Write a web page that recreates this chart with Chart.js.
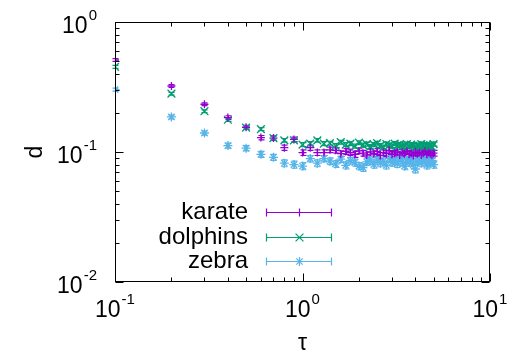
<!doctype html>
<html>

<head>
	<title>d vs tau</title>
	<script src="https://cdn.jsdelivr.net/npm/chart.js@4.4.0/dist/chart.umd.min.js"></script>
	<style>
		body {
			margin: 0;
			background: #fff;
		}
	</style>
</head>

<body>
	<div style="width:521px;height:358px">
		<canvas id="canvas" width="521" height="358"></canvas>
	</div>
	<script>
		var tau = [0.1, 0.2, 0.3, 0.4, 0.5, 0.6, 0.7, 0.8, 0.9, 1.0,
			1.1, 1.2, 1.3, 1.4, 1.5, 1.6, 1.7, 1.8, 1.9, 2.0,
			2.1, 2.2, 2.3, 2.4, 2.5, 2.6, 2.7, 2.8, 2.9, 3.0,
			3.1, 3.2, 3.3, 3.4, 3.5, 3.6, 3.7, 3.8, 3.9, 4.0,
			4.1, 4.2, 4.3, 4.4, 4.5, 4.6, 4.7, 4.8, 4.9, 5.0];

		var karate = [0.510, 0.322, 0.233, 0.184, 0.155, 0.129, 0.128, 0.108, 0.125, 0.099,
			0.108, 0.099, 0.099, 0.104, 0.103, 0.097, 0.101, 0.099, 0.096, 0.102,
			0.098, 0.095, 0.100, 0.097, 0.101, 0.094, 0.099, 0.097, 0.103, 0.096,
			0.098, 0.100, 0.095, 0.099, 0.097, 0.101, 0.096, 0.098, 0.094, 0.100,
			0.097, 0.099, 0.095, 0.098, 0.101, 0.096, 0.099, 0.097, 0.095, 0.098];
		var karateErr = [0.012, 0.008, 0.006, 0.006, 0.005, 0.005, 0.005, 0.005, 0.005, 0.005,
			0.005, 0.005, 0.005, 0.005, 0.005, 0.005, 0.005, 0.005, 0.005, 0.005,
			0.005, 0.005, 0.005, 0.005, 0.005, 0.005, 0.005, 0.005, 0.005, 0.005,
			0.005, 0.005, 0.005, 0.005, 0.005, 0.005, 0.005, 0.005, 0.005, 0.005,
			0.005, 0.005, 0.005, 0.005, 0.005, 0.005, 0.005, 0.005, 0.005, 0.005];

		var dolphins = [0.452, 0.281, 0.206, 0.177, 0.154, 0.150, 0.128, 0.123, 0.123, 0.114,
			0.116, 0.123, 0.116, 0.117, 0.112, 0.119, 0.114, 0.116, 0.111, 0.118,
			0.113, 0.115, 0.110, 0.114, 0.117, 0.112, 0.109, 0.115, 0.113, 0.111,
			0.116, 0.112, 0.114, 0.110, 0.113, 0.115, 0.111, 0.114, 0.112, 0.109,
			0.113, 0.111, 0.115, 0.112, 0.110, 0.114, 0.111, 0.113, 0.109, 0.115];
		var dolphinsErr = [0.012, 0.007, 0.005, 0.005, 0.004, 0.004, 0.004, 0.004, 0.004, 0.004,
			0.004, 0.004, 0.004, 0.004, 0.004, 0.004, 0.004, 0.004, 0.004, 0.004,
			0.004, 0.004, 0.004, 0.004, 0.004, 0.004, 0.004, 0.004, 0.004, 0.004,
			0.004, 0.004, 0.004, 0.004, 0.004, 0.004, 0.004, 0.004, 0.004, 0.004,
			0.004, 0.004, 0.004, 0.004, 0.004, 0.004, 0.004, 0.004, 0.004, 0.004];

		var zebra = [0.302, 0.186, 0.140, 0.112, 0.107, 0.096, 0.091, 0.082, 0.080, 0.078,
			0.089, 0.082, 0.089, 0.085, 0.081, 0.088, 0.079, 0.086, 0.083, 0.078,
			0.076, 0.084, 0.087, 0.080, 0.088, 0.082, 0.085, 0.079, 0.089, 0.083,
			0.086, 0.081, 0.090, 0.084, 0.078, 0.087, 0.083, 0.088, 0.080, 0.074,
			0.085, 0.086, 0.082, 0.089, 0.084, 0.079, 0.087, 0.083, 0.086, 0.080];
		var zebraErr = [0.008, 0.006, 0.005, 0.005, 0.005, 0.005, 0.005, 0.005, 0.005, 0.005,
			0.005, 0.005, 0.005, 0.005, 0.005, 0.005, 0.005, 0.005, 0.005, 0.005,
			0.005, 0.005, 0.005, 0.005, 0.005, 0.005, 0.005, 0.005, 0.005, 0.005,
			0.005, 0.005, 0.005, 0.005, 0.005, 0.005, 0.005, 0.005, 0.005, 0.005,
			0.005, 0.005, 0.005, 0.005, 0.005, 0.005, 0.005, 0.005, 0.005, 0.005];

		var xTicks = [0.1, 1, 10];
		var xTickExp = ['-1', '0', '1'];
		var yTicks = [0.01, 0.1, 1];
		var yTickExp = ['-2', '-1', '0'];

		var names = ['karate', 'dolphins', 'zebra'];
		var colors = ['#9400d3', '#009e73', '#56b4e9'];
		var markers = ['cross', 'crossRot', 'star'];
		var markerSize = [4, 5.5, 4.5];
		var series = [karate, dolphins, zebra];
		var errors = [karateErr, dolphinsErr, zebraErr];

		var FONT = '"Liberation Sans", Arial, sans-serif';

		function toPoints(values) {
			return values.map(function(v, i) {
				return { x: tau[i], y: v };
			});
		}

		function drawMarker(ctx, style, x, y, r) {
			var d = r * Math.SQRT1_2;
			ctx.beginPath();
			if (style === 'cross' || style === 'star') {
				ctx.moveTo(x - r, y); ctx.lineTo(x + r, y);
				ctx.moveTo(x, y - r); ctx.lineTo(x, y + r);
			}
			if (style === 'crossRot' || style === 'star') {
				ctx.moveTo(x - d, y - d); ctx.lineTo(x + d, y + d);
				ctx.moveTo(x - d, y + d); ctx.lineTo(x + d, y - d);
			}
			ctx.stroke();
		}

		// draws "10" with a raised exponent; y is the baseline of "10"
		function powerLabel(ctx, exp, x, y, align) {
			ctx.font = '23px ' + FONT;
			var wBase = ctx.measureText('10').width;
			ctx.font = '15px ' + FONT;
			var wExp = ctx.measureText(exp).width;
			var total = wBase + 1 + wExp;
			var left = align === 'right' ? x - total : x - total / 2;
			ctx.textAlign = 'left';
			ctx.textBaseline = 'alphabetic';
			ctx.font = '23px ' + FONT;
			ctx.fillText('10', left, y);
			ctx.font = '15px ' + FONT;
			ctx.fillText(exp, left + wBase + 1, y - 13);
		}

		function logMinors(min, max) {
			var out = [];
			for (var d = Math.round(Math.log10(min)); d < Math.round(Math.log10(max)); d++) {
				for (var k = 2; k <= 9; k++) out.push(k * Math.pow(10, d));
			}
			return out;
		}

		var errorBars = {
			id: 'errorBars',
			beforeDatasetsDraw: function(chart) {
				var ctx = chart.ctx, xs = chart.scales.x, ys = chart.scales.y;
				ctx.save();
				ctx.lineWidth = 1.2;
				series.forEach(function(vals, i) {
					ctx.strokeStyle = colors[i];
					vals.forEach(function(v, j) {
						var e = errors[i][j];
						var x = Math.round(xs.getPixelForValue(tau[j])) + 0.5;
						var y0 = ys.getPixelForValue(v - e);
						var y1 = ys.getPixelForValue(v + e);
						ctx.beginPath();
						ctx.moveTo(x, y0); ctx.lineTo(x, y1);
						ctx.moveTo(x - 3, y0); ctx.lineTo(x + 3, y0);
						ctx.moveTo(x - 3, y1); ctx.lineTo(x + 3, y1);
						ctx.stroke();
					});
				});
				ctx.restore();
			}
		};

		var frame = {
			id: 'frame',
			afterDraw: function(chart) {
				var ctx = chart.ctx, a = chart.chartArea;
				var xs = chart.scales.x, ys = chart.scales.y;
				var L = Math.round(a.left) + 0.5, R = Math.round(a.right) - 0.5;
				var T = Math.round(a.top) + 0.5, B = Math.round(a.bottom) - 0.5;
				ctx.save();
				ctx.strokeStyle = '#000';
				ctx.fillStyle = '#000';
				ctx.lineWidth = 1;
				ctx.strokeRect(L, T, R - L, B - T);

				// inward ticks on all four sides
				ctx.beginPath();
				function xTick(v, len) {
					var x = Math.round(xs.getPixelForValue(v)) + 0.5;
					ctx.moveTo(x, B); ctx.lineTo(x, B - len);
					ctx.moveTo(x, T); ctx.lineTo(x, T + len);
				}
				function yTick(v, len) {
					var y = Math.round(ys.getPixelForValue(v)) + 0.5;
					ctx.moveTo(L, y); ctx.lineTo(L + len, y);
					ctx.moveTo(R, y); ctx.lineTo(R - len, y);
				}
				xTicks.forEach(function(v) { xTick(v, 8); });
				logMinors(0.1, 10).forEach(function(v) { xTick(v, 4); });
				yTicks.forEach(function(v) { yTick(v, 8); });
				logMinors(0.01, 1).forEach(function(v) { yTick(v, 4); });
				ctx.stroke();

				// tick labels
				xTicks.forEach(function(v, i) {
					powerLabel(ctx, xTickExp[i], xs.getPixelForValue(v), 317, 'center');
				});
				yTicks.forEach(function(v, i) {
					powerLabel(ctx, yTickExp[i], 97, ys.getPixelForValue(v) + 11, 'right');
				});

				// axis titles
				ctx.font = '23px ' + FONT;
				ctx.textAlign = 'center';
				ctx.textBaseline = 'middle';
				ctx.fillText('\u03c4', (a.left + a.right) / 2, 344);
				ctx.save();
				ctx.translate(36, (a.top + a.bottom) / 2);
				ctx.rotate(-Math.PI / 2);
				ctx.fillText('d', 0, 0);
				ctx.restore();

				// key
				var rows = [212, 237, 261];
				ctx.font = '24px ' + FONT;
				ctx.textAlign = 'right';
				names.forEach(function(name, i) {
					var y = rows[i] + 0.5;
					ctx.fillStyle = '#000';
					ctx.fillText(name, 248, rows[i]);
					ctx.strokeStyle = colors[i];
					ctx.lineWidth = 1.2;
					ctx.beginPath();
					ctx.moveTo(266, y); ctx.lineTo(332, y);
					ctx.moveTo(266.5, y - 4); ctx.lineTo(266.5, y + 4);
					ctx.moveTo(331.5, y - 4); ctx.lineTo(331.5, y + 4);
					ctx.stroke();
					var r = markerSize[i];
					drawMarker(ctx, markers[i], 299.5, y, markers[i] === 'crossRot' ? r * Math.SQRT2 / 1.4 : r);
				});
				ctx.restore();
			}
		};

		var config = {
			type: 'scatter',
			data: {
				datasets: names.map(function(name, i) {
					return {
						label: name,
						data: toPoints(series[i]),
						borderColor: colors[i],
						backgroundColor: colors[i],
						pointStyle: markers[i],
						pointRadius: markerSize[i],
						pointBorderWidth: 1.3,
						showLine: false
					};
				})
			},
			options: {
				responsive: false,
				animation: false,
				layout: {
					padding: { left: 115, right: 31, top: 22, bottom: 76 }
				},
				plugins: {
					legend: { display: false },
					tooltip: { enabled: false }
				},
				scales: {
					x: { type: 'logarithmic', min: 0.1, max: 10, display: false },
					y: { type: 'logarithmic', min: 0.01, max: 1, display: false }
				}
			},
			plugins: [errorBars, frame]
		};

		window.onload = function() {
			window.myChart = new Chart(document.getElementById('canvas'), config);
		};
	</script>
</body>

</html>
